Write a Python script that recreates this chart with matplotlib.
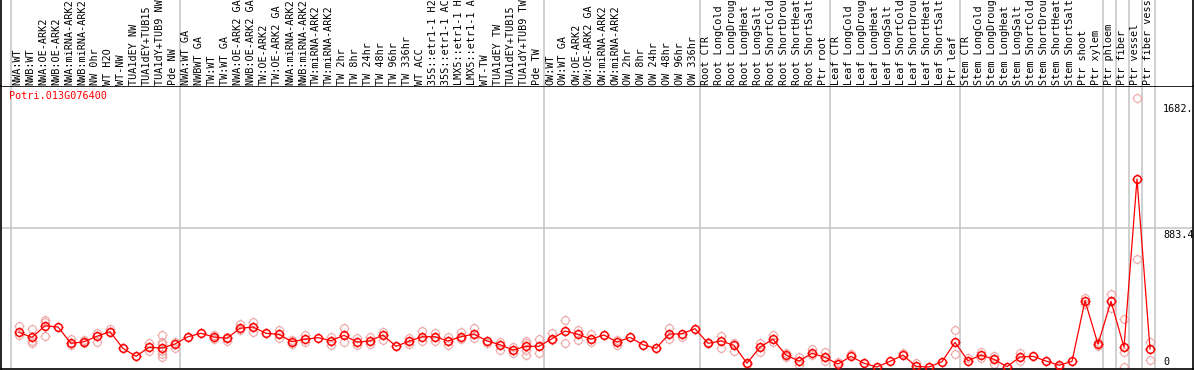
import matplotlib
matplotlib.use("Agg")
import matplotlib.pyplot as plt
from matplotlib.path import Path

gene = "Potri.013G076400"

# sample labels, grouped as in the reference (text as far as it is visible)
g_nw = ["NWA:WT", "NWB:WT", "NWA:OE-ARK2", "NWB:OE-ARK2", "NWA:miRNA-ARK2",
        "NWB:miRNA-ARK2", "NW 0hr", "WT H2O", "WT-NW", "TUA1dEY NW",
        "TUA1dEY+TUB15", "TUA1dY+TUB9 NW", "Pde NW"]
g_tw = ["NWA:WT GA", "NWBWT GA", "TW:WT", "TW:WT GA", "NWA:OE-ARK2 GA",
        "NWB:OE-ARK2 GA", "TW:OE-ARK2", "TW:OE-ARK2 GA", "NWA:miRNA-ARK2",
        "NWB:miRNA-ARK2", "TW:miRNA-ARK2", "TW:miRNA-ARK2", "TW 2hr", "TW 8hr",
        "TW 24hr", "TW 48hr", "TW 96hr", "TW 336hr", "WT ACC", "35S::etr1-1 H2",
        "35S::etr1-1 AC", "LMX5::etr1-1 H", "LMX5::etr1-1 A", "WT-TW",
        "TUA1dEY TW", "TUA1dEY+TUB15", "TUA1dY+TUB9 TW", "Pde TW"]
g_ow = ["OW:WT", "OW:WT GA", "OW:OE-ARK2", "OW:OE-ARK2 GA", "OW:miRNA-ARK2",
        "OW:miRNA-ARK2", "OW 2hr", "OW 8hr", "OW 24hr", "OW 48hr", "OW 96hr",
        "OW 336hr"]
g_root = ["Root CTR", "Root LongCold", "Root LongDroug", "Root LongHeat",
          "Root LongSalt", "Root ShortCold", "Root ShortDrou", "Root ShortHeat",
          "Root ShortSalt", "Ptr root"]
g_leaf = ["Leaf CTR", "Leaf LongCold", "Leaf LongDroug", "Leaf LongHeat",
          "Leaf LongSalt", "Leaf ShortCold", "Leaf ShortDrou", "Leaf ShortHeat",
          "Leaf ShortSalt", "Ptr leaf"]
g_stem = ["Stem CTR", "Stem LongCold", "Stem LongDroug", "Stem LongHeat",
          "Stem LongSalt", "Stem ShortCold", "Stem ShortDrou", "Stem ShortHeat",
          "Stem ShortSalt", "Ptr shoot", "Ptr xylem"]
g_ptr = [["Ptr phloem"], ["Ptr fiber"], ["Ptr vessel"], ["Ptr fiber vess"]]

groups = [g_nw, g_tw, g_ow, g_root, g_leaf, g_stem] + g_ptr
labels = [s for g in groups for s in g]

# mean expression per sample
means = [221, 189, 263, 255, 151, 161, 196, 225, 119, 68, 126, 121, 147,
         193, 215, 191, 183, 247, 255, 215, 208, 161, 177, 187, 168, 202, 159,
         166, 204, 132, 164, 193, 193, 166, 193, 210, 166, 142, 108, 132, 132,
         180, 229, 208, 177, 204, 159, 189, 142, 119, 210, 212, 244,
         151, 166, 138, 24, 127, 177, 76, 38, 87, 62,
         19, 68, 24, 0, 36, 76, 4, 0, 34, 157,
         40, 76, 49, 2, 64, 68, 38, 11, 36, 423, 145,
         419, 126, 1198, 115]

# replicate values (the ones visible apart from the mean)
reps = [[261, 204], [240, 168, 151], [300, 285, 200], [], [178, 140], [172, 151],
        [219, 161], [240, 221], [], [], [151, 104], [204, 161, 145, 104, 83, 66],
        [161, 119],
        [], [], [204, 178], [193, 168], [272, 236], [289, 221], [], [236, 187],
        [172, 147], [204, 161], [], [189, 140], [247, 157], [183, 140],
        [193, 147], [225, 172], [], [183, 147], [229, 168], [219, 168],
        [189, 140], [225, 177], [250, 183], [151], [161, 108], [129, 87],
        [168, 155, 108, 76], [177, 87],
        [219, 172], [300, 151], [236, 172], [208, 161], [], [172, 140], [], [],
        [], [247, 177], [193], [],
        [161], [198, 123], [151, 102], [19], [151, 98], [204, 161], [87, 62],
        [62, 13], [113, 76], [94, 40],
        [34], [83], [], [], [], [91], [27], [], [], [234, 81],
        [55], [98, 55], [70, 19], [], [87, 40], [], [], [0], [], [438, 402],
        [159, 136],
        [465, 374], [304, 98, 0], [1713, 686], [157, 43]]

ticks = [0, 883.4, 1682]
tick_text = ["0", "883.4", "1682."]

# ring marker with four little stubs, like the original bitmap markers
r = 1 / 1.3
circ = Path.unit_circle()
verts = [tuple(v * r) for v in circ.vertices]
codes = list(circ.codes)
for dx, dy in [(0, 1), (0, -1), (1, 0), (-1, 0)]:
    verts += [(dx * r, dy * r), (dx, dy)]
    codes += [Path.MOVETO, Path.LINETO]
ring = Path(verts, codes)

W, H = 1194, 370
fig = plt.figure(figsize=(W / 100, H / 100), dpi=100)
ax = fig.add_axes([1 / W, 1 / H, 1192 / W, (369 - 86) / H])
axl = fig.add_axes([1 / W, (H - 86) / H, 1192 / W, 86 / H], sharex=ax)

n = len(labels)
x = list(range(n))
ax.set_xlim((1 - 19) / 13, (1193 - 19) / 13)
ax.set_ylim(-12.7, 1791)

# group separators
seps = [-1]
for g in groups:
    seps.append(seps[-1] + len(g))
for s in seps:
    ax.axvline(s + 5 / 13, color="#c4c4c4", lw=1.1, zorder=0)
    axl.axvline(s + 5 / 13, color="#c4c4c4", lw=1.1, zorder=0)
ax.axhline(ticks[1], color="#c4c4c4", lw=1.1, zorder=0)

# replicates
rx = [i for i, rr in enumerate(reps) for _ in rr]
ry = [v for rr in reps for v in rr]
ax.plot(rx, ry, ls="none", marker=ring, ms=7.2, mew=0.8, mec="#eea5a5",
        mfc="none", zorder=2)

# mean line
ax.plot(x, means, color="red", lw=0.9, marker=ring, ms=7.2, mew=1.1,
        mec="red", mfc="none", zorder=3)

mono = "DejaVu Sans Mono"
for i, lab in enumerate(labels):
    axl.text(i - 0.15, 0.015, lab, rotation=90, ha="center", va="bottom",
             fontsize=7.3, family=mono, transform=axl.get_xaxis_transform())

ax.text(8 / 1192, 1 - 5 / 283, gene, color="red", fontsize=7.3, family=mono,
        ha="left", va="top", transform=ax.transAxes)

tx = (1163 - 19) / 13
ax.text(tx, ticks[0] + 1, tick_text[0], fontsize=7.3, family=mono,
        ha="left", va="bottom")
ax.text(tx, ticks[1] - 8, tick_text[1], fontsize=7.3, family=mono,
        ha="left", va="top")
ax.text(tx, ticks[2] - 8, tick_text[2], fontsize=7.3, family=mono,
        ha="left", va="top")

for a in (ax, axl):
    a.set_xticks([])
    a.set_yticks([])
    for sp in a.spines.values():
        sp.set_color("black")
        sp.set_linewidth(1.2)
axl.spines["top"].set_visible(False)
axl.spines["bottom"].set_visible(False)
axl.set_ylim(0, 1)

fig.savefig("out.png", dpi=100)
